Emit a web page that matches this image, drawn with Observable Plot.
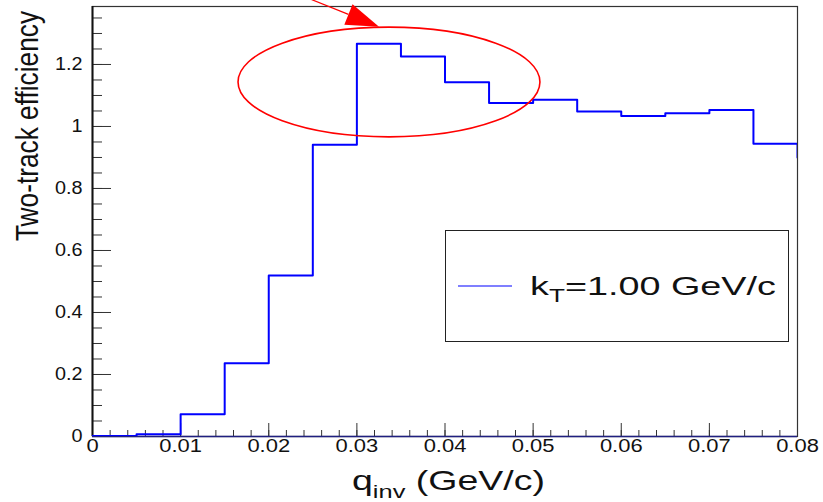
<!DOCTYPE html>
<html><head><meta charset="utf-8">
<script src="https://cdn.jsdelivr.net/npm/d3@7"></script>
<script src="https://cdn.jsdelivr.net/npm/@observablehq/plot@0.6"></script>
<style>
body{margin:0;background:#fff}
#wrap{position:relative;width:823px;height:502px;overflow:hidden}
</style>
</head><body><div id="wrap"></div>
<script>
// ---- data ----
const binLowEdges = [0, 0.005, 0.01, 0.015, 0.02, 0.025, 0.03, 0.035, 0.04, 0.045, 0.05, 0.055, 0.06, 0.065, 0.07, 0.075, 0.08, 0.085];
const efficiency  = [0.002, 0.007, 0.072, 0.236, 0.519, 0.941, 1.267, 1.226, 1.143, 1.076, 1.086, 1.048, 1.034, 1.043, 1.053, 0.944, 0.90, 0.90];
const xMajorTicks = [0, 0.01, 0.02, 0.03, 0.04, 0.05, 0.06, 0.07, 0.08];
const xTickLabels = ["0", "0.01", "0.02", "0.03", "0.04", "0.05", "0.06", "0.07", "0.08"];
const xMinorTicks = d3.range(0, 41).map(i => i * 0.002);
const yMajorTicks = [0, 0.2, 0.4, 0.6, 0.8, 1, 1.2];
const yTickLabels = ["0", "0.2", "0.4", "0.6", "0.8", "1", "1.2"];
const yMinorTicks = d3.range(0, 28).map(i => i * 0.05);
const ellipseCenter = [0.0337, 1.142];
const ellipseRadii = [0.01713, 0.177];
const arrowStart = [0.0235, 1.424];
const arrowTip = [0.03257, 1.320];
const legendLabel = ["k", "T", "=1.00 GeV/c"];
const yTitle = "Two-track efficiency";
const xTitle = ["q", "inv", " (GeV/c)"];

const rows = binLowEdges.map((x, i) => ({x, y: efficiency[i]}));
const FONT = "Liberation Sans, Arial, Helvetica, sans-serif";

const ellipseMark = (index, scales) => {
  const g = d3.create("svg:g");
  const cx = scales.x(ellipseCenter[0]), cy = scales.y(ellipseCenter[1]);
  const rx = scales.x(ellipseCenter[0] + ellipseRadii[0]) - cx;
  const ry = cy - scales.y(ellipseCenter[1] + ellipseRadii[1]);
  g.append("ellipse").attr("cx", cx).attr("cy", cy).attr("rx", rx).attr("ry", ry)
    .attr("fill", "none").attr("stroke", "#ff0000").attr("stroke-width", 1.6);
  return g.node();
};

const arrowMark = (index, scales) => {
  const g = d3.create("svg:g");
  const sx = scales.x(arrowStart[0]), sy = scales.y(arrowStart[1]);
  const tx = scales.x(arrowTip[0]), ty = scales.y(arrowTip[1]);
  const L = Math.hypot(tx - sx, ty - sy), ux = (tx - sx) / L, uy = (ty - sy) / L;
  const head = 33, hw = 11;
  const bx = tx - ux * head, by = ty - uy * head;
  g.append("line").attr("x1", sx).attr("y1", sy).attr("x2", bx).attr("y2", by)
    .attr("stroke", "#ff0000").attr("stroke-width", 1.2);
  g.append("polygon")
    .attr("points", [[tx, ty], [bx - uy * hw, by + ux * hw], [bx + uy * hw, by - ux * hw]].map(p => p.join(",")).join(" "))
    .attr("fill", "#ff0000");
  return g.node();
};

const plot = Plot.plot({
  width: 823,
  height: 502,
  marginLeft: 92,
  marginRight: 26,
  marginTop: 6,
  marginBottom: 66,
  style: {fontFamily: FONT, background: "#fff", overflow: "visible"},
  x: {domain: [0, 0.08]},
  y: {domain: [0, 1.387]},
  marks: [
    Plot.frame({stroke: "#333", strokeWidth: 1.2}),
    Plot.axisY(yMinorTicks, {tickSize: -10, tickFormat: () => "", stroke: "#333", label: null}),
    Plot.axisY(yMajorTicks, {tickSize: -19, tickFormat: () => "", stroke: "#333", label: null}),
    Plot.axisY(yMajorTicks, {tickSize: 0, tickPadding: 10, fontSize: 18, fill: "#111",
      tickFormat: d => yTickLabels[yMajorTicks.indexOf(d)], label: null}),
    Plot.axisX(xMinorTicks, {tickSize: -6, tickFormat: () => "", stroke: "#333", label: null}),
    Plot.axisX(xMajorTicks, {tickSize: -13, tickFormat: () => "", stroke: "#333", label: null}),
    Plot.axisX(xMajorTicks, {tickSize: 0, tickPadding: 3, fontSize: 18, fill: "#111",
      tickFormat: d => xTickLabels[xMajorTicks.indexOf(d)], label: null}),
    Plot.ruleX([0], {stroke: "#111", strokeWidth: 2}),
    Plot.ruleY([0], {stroke: "#202080", strokeWidth: 1.5}),
    Plot.line(rows, {x: "x", y: "y", curve: "step-after", stroke: "#0000ff", strokeWidth: 2, clip: true}),
    ellipseMark,
    arrowMark
  ]
});

document.getElementById("wrap").appendChild(plot);
const svg = d3.select(plot);

function stretch(sel, factor) {
  sel.each(function() {
    const w = this.getComputedTextLength();
    d3.select(this).attr("textLength", w * factor).attr("lengthAdjust", "spacingAndGlyphs");
  });
}
stretch(svg.selectAll('[aria-label="x-axis tick label"] text'), 1.22);
stretch(svg.selectAll('[aria-label="y-axis tick label"] text'), 1.1);

// place a text so that its advance equals `width`, via a scale transform
function fitText(node, x, y, width, rotate) {
  const w = node.getComputedTextLength();
  const s = width / w;
  d3.select(node).attr("x", 0).attr("y", 0)
    .attr("transform", `translate(${x},${y})${rotate ? ` rotate(${rotate})` : ""} scale(${s},1)`);
}

// y-axis title
const yt = svg.append("text").attr("font-family", FONT).attr("font-size", 31).attr("fill", "#111")
  .attr("text-anchor", "end").text(yTitle);
fitText(yt.node(), 38, 11, 230, -90);

// x-axis title with subscript
const xt = svg.append("text").attr("font-family", FONT).attr("font-size", 28).attr("fill", "#111")
  .attr("text-anchor", "start");
xt.append("tspan").text(xTitle[0]);
xt.append("tspan").attr("font-size", 19).attr("dy", 8).text(xTitle[1]);
xt.append("tspan").attr("dy", -8).text(xTitle[2]);
fitText(xt.node(), 352, 490, 193);

// legend box
const lg = svg.append("g");
lg.append("rect").attr("x", 445.5).attr("y", 230.5).attr("width", 343).attr("height", 111)
  .attr("fill", "#fff").attr("stroke", "#222").attr("stroke-width", 1);
lg.append("line").attr("x1", 458).attr("x2", 512).attr("y1", 286).attr("y2", 286)
  .attr("stroke", "#0000ff").attr("stroke-width", 1.2);
const lt = lg.append("text").attr("font-family", FONT).attr("font-size", 26).attr("fill", "#111")
  .attr("text-anchor", "start");
lt.append("tspan").text(legendLabel[0]);
lt.append("tspan").attr("font-size", 18).attr("dy", 7).text(legendLabel[1]);
lt.append("tspan").attr("dy", -7).text(legendLabel[2]);
fitText(lt.node(), 530, 295, 246);
</script>
</body></html>
